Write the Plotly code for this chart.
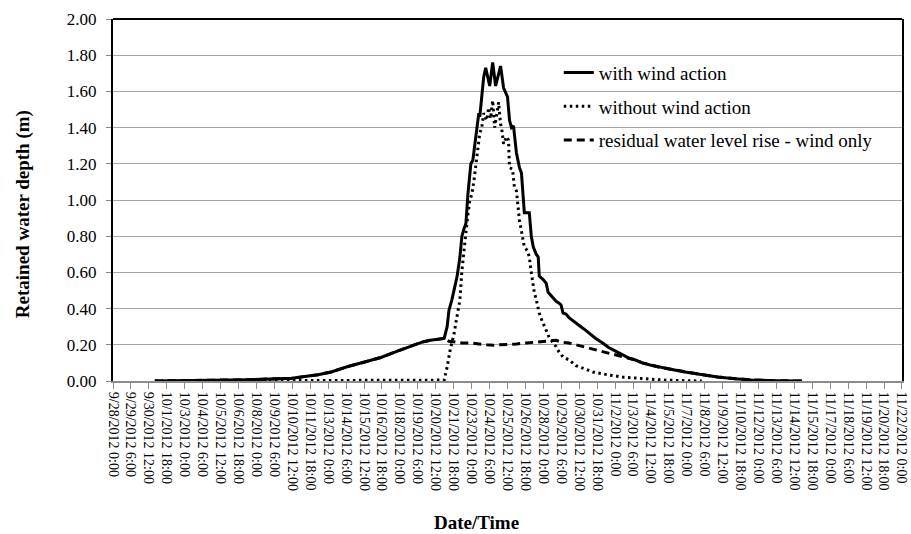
import pandas as pd
import plotly.graph_objects as go

START = pd.Timestamp("2012-09-28 00:00")

# ---- data (hours since 9/28/2012 0:00, water depth in m) ----
with_hours = [70, 144, 227, 299, 343, 365, 393, 421, 448, 476, 504, 517, 531, 542, 554,
              559, 562, 567, 572, 575.5, 580.4, 583.7, 587.1, 590.4, 593.7, 598.7, 602.0,
              605.3, 608.6, 612.0, 613.6, 616.9, 620.2, 623.5, 630.2, 635.2, 640.1, 648.4,
              653.4, 660.0, 663.4, 666.7, 670.0, 675.0, 679.9, 683.3, 686.6, 688.2, 696.5,
              699.8, 703.2, 708.1, 711.4, 713.1, 719.7, 724.7, 728.0, 733.0, 738.0, 741.3,
              746.3, 749.6, 752.9, 757.9, 762.9, 769.5, 774.5, 782.8, 791.0, 796.0, 802.7,
              807.6, 819.2, 829.2, 840.8, 852.4, 862.4, 874.0, 885.6, 898.8, 915.4, 928.7,
              956.9, 985.1, 1011.6, 1039.8, 1068.0, 1106.1, 1152.6]
with_vals = [0.0, 0.003, 0.007, 0.015, 0.035, 0.05, 0.08, 0.105, 0.13, 0.165, 0.20, 0.215, 0.225, 0.23, 0.235,
             0.30, 0.39, 0.45, 0.52, 0.575, 0.685, 0.80, 0.84, 0.87, 1.03, 1.20, 1.22,
             1.30, 1.40, 1.48, 1.46, 1.58, 1.68, 1.73, 1.63, 1.76, 1.63, 1.74,
             1.62, 1.57, 1.44, 1.40, 1.41, 1.26, 1.18, 1.15, 1.00, 0.93, 0.93,
             0.80, 0.74, 0.70, 0.685, 0.58, 0.56, 0.54, 0.49, 0.47, 0.45, 0.44,
             0.43, 0.42, 0.375, 0.37, 0.35, 0.335, 0.32, 0.30, 0.28, 0.265, 0.25,
             0.235, 0.21, 0.185, 0.165, 0.144, 0.128, 0.116, 0.10, 0.088, 0.075, 0.068,
             0.05, 0.035, 0.022, 0.013, 0.006, 0.002, 0.0]

without_hours = [70, 554, 559, 564, 570.5, 575.5, 580.4, 583.7, 588.7, 593.7, 597.0, 600.3, 603.6,
                 608.6, 613.6, 616.9, 620.2, 625.2, 628.5, 631.8, 635.2, 638.5, 641.8, 645.1,
                 648.4, 650.1, 653.4, 658.4, 661.7, 663.4, 668.3, 671.6, 675.0, 678.3, 679.9,
                 684.9, 688.2, 693.2, 696.5, 699.8, 704.8, 708.1, 713.1, 718.1, 721.4, 724.7,
                 729.7, 734.7, 741.3, 746.3, 752.9, 762.9, 774.5, 791.0, 802.7, 819.2, 829.2,
                 852.4, 874.0, 907.1, 928.7, 985.1]
without_vals = [0.0, 0.005, 0.077, 0.17, 0.26, 0.35, 0.45, 0.61, 0.78, 0.92, 1.00, 1.03, 1.10,
                1.24, 1.37, 1.40, 1.48, 1.44, 1.51, 1.45, 1.55, 1.40, 1.47, 1.54,
                1.42, 1.40, 1.31, 1.35, 1.33, 1.18, 1.17, 1.07, 1.05, 0.95, 0.89,
                0.80, 0.74, 0.72, 0.685, 0.60, 0.49, 0.45, 0.375, 0.33, 0.30, 0.28,
                0.24, 0.22, 0.19, 0.16, 0.133, 0.116, 0.085, 0.065, 0.05, 0.04, 0.033,
                0.022, 0.015, 0.008, 0.004, 0.0]

resid_hours = [70, 144, 227, 299, 343, 365, 393, 421, 448, 476, 504, 517, 531, 542, 554,
               562, 570.5, 583.7, 597.0, 608.6, 625.2, 636.8, 650.1, 663.4, 675.0, 691.5,
               708.1, 719.7, 729.7, 741.3, 749.6, 762.9, 774.5, 786.1, 796.0, 807.6, 819.2,
               829.2, 840.8, 852.4, 862.4, 874.0, 885.6, 898.8, 915.4, 928.7, 956.9, 985.1,
               1011.6, 1039.8, 1068.0, 1106.1, 1152.6]
resid_vals = [0.0, 0.003, 0.007, 0.015, 0.035, 0.05, 0.08, 0.105, 0.13, 0.165, 0.20, 0.215, 0.225, 0.23, 0.235,
              0.22, 0.215, 0.21, 0.21, 0.205, 0.20, 0.198, 0.20, 0.20, 0.205, 0.21,
              0.215, 0.218, 0.222, 0.225, 0.215, 0.21, 0.20, 0.19, 0.18, 0.17, 0.16,
              0.155, 0.145, 0.135, 0.125, 0.116, 0.10, 0.088, 0.075, 0.068, 0.05, 0.035,
              0.022, 0.013, 0.006, 0.002, 0.0]

tick_labels = ["9/28/2012 0:00", "9/29/2012 6:00", "9/30/2012 12:00", "10/1/2012 18:00",
               "10/3/2012 0:00", "10/4/2012 6:00", "10/5/2012 12:00", "10/6/2012 18:00",
               "10/8/2012 0:00", "10/9/2012 6:00", "10/10/2012 12:00", "10/11/2012 18:00",
               "10/13/2012 0:00", "10/14/2012 6:00", "10/15/2012 12:00", "10/16/2012 18:00",
               "10/18/2012 0:00", "10/19/2012 6:00", "10/20/2012 12:00", "10/21/2012 18:00",
               "10/23/2012 0:00", "10/24/2012 6:00", "10/25/2012 12:00", "10/26/2012 18:00",
               "10/28/2012 0:00", "10/29/2012 6:00", "10/30/2012 12:00", "10/31/2012 18:00",
               "11/2/2012 0:00", "11/3/2012 6:00", "11/4/2012 12:00", "11/5/2012 18:00",
               "11/7/2012 0:00", "11/8/2012 6:00", "11/9/2012 12:00", "11/10/2012 18:00",
               "11/12/2012 0:00", "11/13/2012 6:00", "11/14/2012 12:00", "11/15/2012 18:00",
               "11/17/2012 0:00", "11/18/2012 6:00", "11/19/2012 12:00", "11/20/2012 18:00",
               "11/22/2012 0:00"]
tick_step_hours = 30


def to_time(hours):
    return [START + pd.Timedelta(hours=h) for h in hours]


FONT = "Liberation Serif"

fig = go.Figure()
fig.add_trace(go.Scatter(x=to_time(with_hours), y=with_vals, mode="lines",
                         name="with wind action", legendgroup="a",
                         line=dict(color="black", width=3)))
fig.add_trace(go.Scatter(x=to_time(without_hours), y=without_vals, mode="lines",
                         name="without wind action", legendgroup="b",
                         line=dict(color="black", width=3, dash="2.5px,3.5px")))
fig.add_trace(go.Scatter(x=to_time(resid_hours), y=resid_vals, mode="lines",
                         name="residual water level rise - wind only", legendgroup="c",
                         line=dict(color="black", width=3, dash="8px,5px")))

tick_vals = [START + pd.Timedelta(hours=tick_step_hours * i) for i in range(len(tick_labels))]
x_range = [tick_vals[0] - pd.Timedelta(minutes=5), tick_vals[-1] + pd.Timedelta(minutes=5)]

fig.update_layout(
    width=911, height=534,
    margin=dict(l=113, r=2, t=19, b=153),
    paper_bgcolor="white", plot_bgcolor="white",
    font=dict(family=FONT, color="black", size=15),
    showlegend=True,
    legend=dict(x=0.565, y=0.904, xanchor="left", yanchor="top",
                bgcolor="rgba(0,0,0,0)", font=dict(family=FONT, size=19, color="black"),
                tracegroupgap=6, traceorder="grouped"),
    xaxis=dict(type="date", range=x_range,
               tickmode="array", tickvals=tick_vals, ticktext=tick_labels,
               tickangle=90, tickfont=dict(family=FONT, size=14, color="black"),
               ticklabeloverflow="allow",
               ticks="outside", ticklen=6, tickcolor="#8c8c8c", tickwidth=1,
               showgrid=False, showline=True, linecolor="#8c8c8c", linewidth=2,
               zeroline=False),
    yaxis=dict(range=[0, 2], dtick=0.2, tick0=0, tickformat=".2f",
               tickfont=dict(family=FONT, size=17, color="black"),
               ticks="outside", ticklen=5, tickcolor="#8c8c8c",
               showgrid=True, gridcolor="#a6a6a6", gridwidth=1,
               showline=True, linecolor="black", linewidth=2, mirror=True,
               zeroline=False, ticklabelstandoff=6),
    shapes=[dict(type="line", xref="paper", yref="paper", x0=0, x1=1, y0=1, y1=1,
                 line=dict(color="black", width=2))],
    annotations=[
        dict(text="<b>Date/Time</b>", xref="paper", yref="paper", x=0.4605, y=-0.39,
             xanchor="center", yanchor="middle", showarrow=False,
             font=dict(family=FONT, size=19, color="black")),
        dict(text="<b>Retained water depth (m)</b>", xref="paper", yref="paper",
             x=-0.114, y=0.461, xanchor="center", yanchor="middle", textangle=-90,
             showarrow=False, font=dict(family=FONT, size=19, color="black")),
    ],
)

fig.write_html("out.html")
